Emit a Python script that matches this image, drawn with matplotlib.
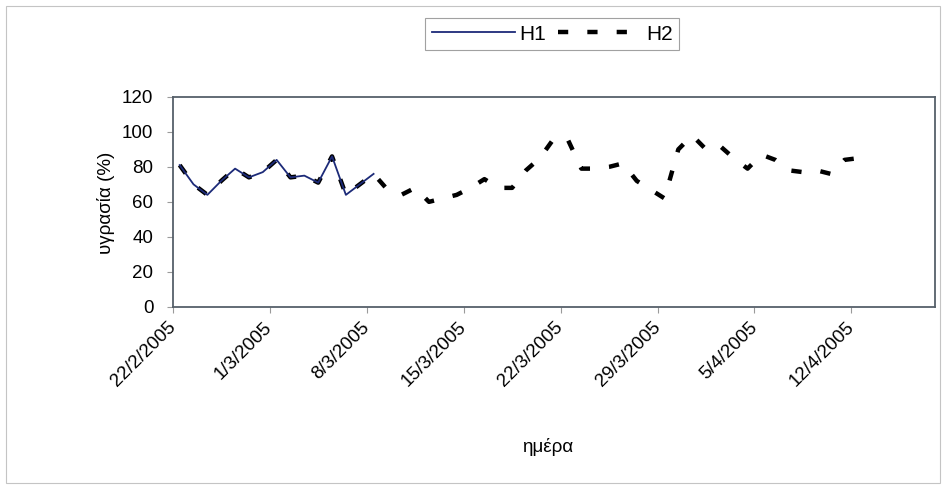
import numpy as np
import pandas as pd
import matplotlib
matplotlib.use("Agg")
import matplotlib.pyplot as plt
from matplotlib.patches import Rectangle

plt.rcParams['font.family'] = ['Liberation Sans', 'DejaVu Sans']

# daily humidity readings (%), starting 22/2/2005
start_date = "2005-02-22"
h1_values = [81, 70, 64, 72, 79, 74, 77, 84, 74, 75, 71, 86, 64, 70, 76]
h2_values = [81, 70, 64, 72, 79, 74, 77, 84, 74, 75, 71, 86, 64, 70, 76,
             67, 64, 68, 60, 62, 64, 68, 73, 68, 68, 78, 85, 96, 96, 79,
             79, 80, 82, 72, 67, 62, 90, 98, 90, 92, 85, 79, 87, 84, 78,
             77, 78, 76, 84, 85]
tick_dates = ["2005-02-22", "2005-03-01", "2005-03-08", "2005-03-15",
              "2005-03-22", "2005-03-29", "2005-04-05", "2005-04-12"]
tick_labels = ["22/2/2005", "1/3/2005", "8/3/2005", "15/3/2005",
               "22/3/2005", "29/3/2005", "5/4/2005", "12/4/2005"]
x_end = "2005-04-18"

# excel draws each day in the middle of its slot
half_day = pd.Timedelta(hours=12)
d1 = pd.date_range(start_date, periods=len(h1_values)) + half_day
d2 = pd.date_range(start_date, periods=len(h2_values)) + half_day

fig = plt.figure(figsize=(9.44, 4.87), dpi=100)
ax = fig.add_axes([0.183, 0.370, 0.807, 0.431])

ax.plot(d1, h1_values, color='#1c2a78', lw=1.3, label='H1', zorder=3)
ax.plot(d2, h2_values, color='black', lw=3.2, dashes=(2.3, 4.3),
        solid_capstyle='butt', dash_capstyle='butt', label='H2', zorder=2)

ax.set_xlim(pd.Timestamp(start_date), pd.Timestamp(x_end))
ax.set_ylim(0, 120)
ax.set_yticks(np.arange(0, 121, 20))
ax.set_xticks(pd.to_datetime(tick_dates))
ax.set_xticklabels(tick_labels, rotation=45, ha='right', va='center',
                   rotation_mode='anchor')

for s in ax.spines.values():
    s.set_color('#56606a')
    s.set_linewidth(1.3)
ax.tick_params(axis='both', direction='out', length=4, width=0.8,
               color='#9a9a9a', labelsize=13.5, colors='black')
ax.tick_params(axis='x', pad=9)
ax.tick_params(axis='y', pad=10)
for t in ax.get_xticklines() + ax.get_yticklines():
    t.set_color('#9a9a9a')

fig.text(106 / 944, 1 - 203 / 487, 'υγρασία (%)', rotation=90,
         ha='center', va='center', fontsize=13.5)
fig.text(548 / 944, 1 - 447 / 487, 'ημέρα', ha='center', va='center',
         fontsize=13.5)

leg = fig.legend(loc='center', bbox_to_anchor=(552 / 944, 1 - 34 / 487),
                 ncol=2, fontsize=15, frameon=True, fancybox=False,
                 handlelength=4.0, handletextpad=0.2, columnspacing=0.6,
                 borderpad=0.3, borderaxespad=0)
leg.get_frame().set_edgecolor('#8a8a8a')
leg.get_frame().set_linewidth(0.8)

# chart area border
fig.patches.append(Rectangle((6 / 944, 4 / 487), 934 / 944, 477 / 487,
                             transform=fig.transFigure, fill=False,
                             edgecolor='#c4c4c4', lw=0.8))

fig.savefig('out.png', dpi=100)
